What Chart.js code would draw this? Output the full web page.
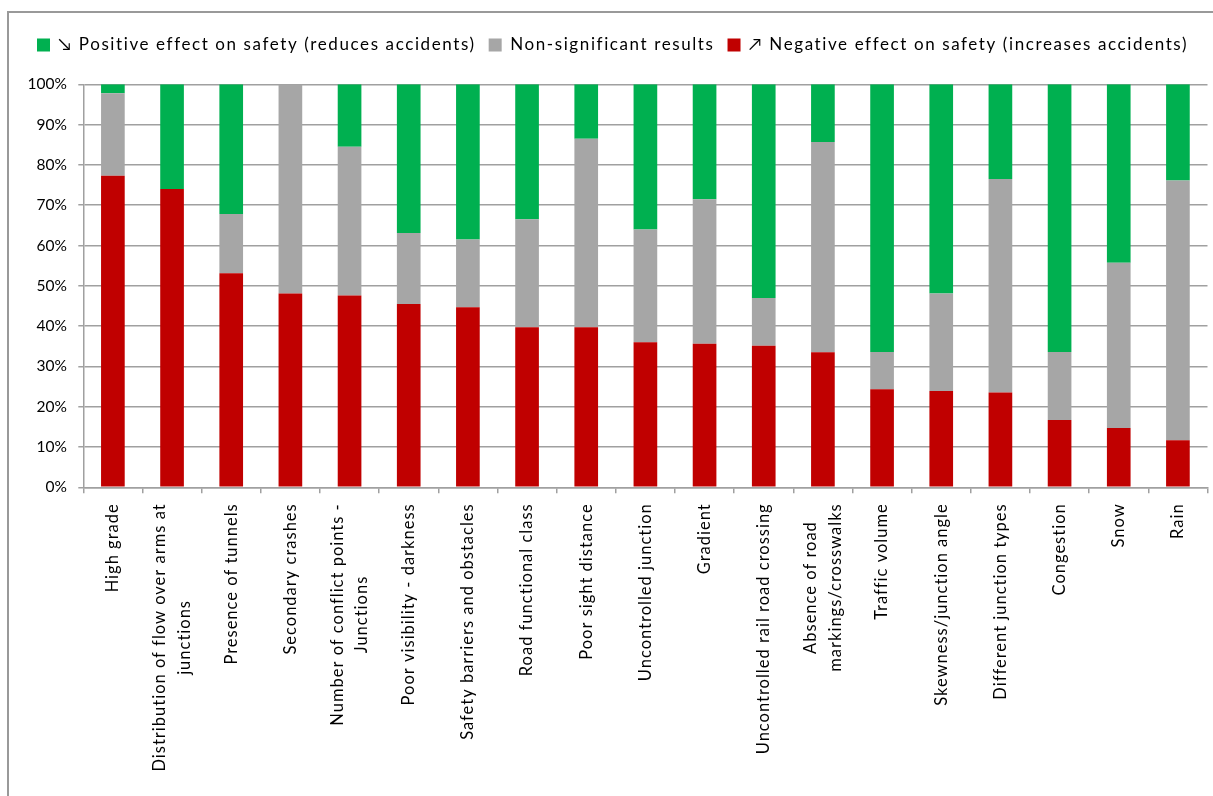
<!DOCTYPE html>
<html><head><meta charset="utf-8">
<script src="https://cdn.jsdelivr.net/npm/chart.js@4"></script>
<style>
html,body{margin:0;padding:0;background:#fff;}
#wrap{position:relative;width:1213px;height:796px;overflow:hidden;}
#frame{position:absolute;left:7px;top:11px;width:1300px;height:900px;border-left:2px solid #999;border-top:2px solid #999;}
canvas{position:absolute;left:0;top:0;}
</style></head><body>
<div id="wrap"><div id="frame"></div><canvas id="c" width="1213" height="796"></canvas></div>
<script>
const categories = [
  ["High grade"],
  ["Distribution of flow over arms at", "junctions"],
  ["Presence of tunnels"],
  ["Secondary crashes"],
  ["Number of conflict points -", "Junctions"],
  ["Poor visibility - darkness"],
  ["Safety barriers and obstacles"],
  ["Road functional class"],
  ["Poor sight distance"],
  ["Uncontrolled junction"],
  ["Gradient"],
  ["Uncontrolled rail road crossing"],
  ["Absence of road", "markings/crosswalks"],
  ["Traffic volume"],
  ["Skewness/junction angle"],
  ["Different junction types"],
  ["Congestion"],
  ["Snow"],
  ["Rain"]
];
const negativeValues =       [77.3, 74.0, 53.1, 48.1, 47.6, 45.5, 44.7, 39.7, 39.7, 36.0, 35.6, 35.1, 33.5, 24.3, 23.9, 23.5, 16.7, 14.7, 11.7];
const nonSignificantValues = [20.5,  0.0, 14.7, 51.9, 36.9, 17.6, 16.8, 26.8, 46.8, 28.0, 35.9, 11.9, 52.2,  9.3, 24.2, 53.0, 16.9, 41.0, 64.4];
const positiveValues =       [ 2.2, 26.0, 32.2,  0.0, 15.5, 36.9, 38.5, 33.5, 13.5, 36.0, 28.5, 53.0, 14.3, 66.4, 51.9, 23.5, 66.4, 44.3, 23.9];
const seriesNames = [
  "\u2197 Negative effect on safety (increases accidents)",
  "Non-significant results",
  "\u2198 Positive effect on safety (reduces accidents)"
];
const yTickStep = 10;

const FONT = 'Lato, "DejaVu Sans", sans-serif';
const X_FONT = 16.5;
const X_SPACING = '1px';
const LEGEND_SPACING = '1.6px';
const X_LINE = 24.7;
const GRID = '#a0a0a0';

const xLabelPlugin = {
  id: 'xLabels',
  afterDraw(chart) {
    const xs = chart.scales.x, ctx = chart.ctx;
    ctx.save();
    ctx.font = X_FONT + 'px ' + FONT;
    ctx.letterSpacing = X_SPACING;
    ctx.fillStyle = '#000';
    ctx.textAlign = 'center';
    ctx.textBaseline = 'middle';
    chart.data.labels.forEach((lab, i) => {
      const lines = Array.isArray(lab) ? lab : [lab];
      const maxW = Math.max(...lines.map(l => ctx.measureText(l).width));
      const cx = xs.getPixelForTick(i);
      const cy = xs.top + 16 + maxW / 2;
      ctx.save();
      ctx.translate(cx, cy);
      ctx.rotate(-Math.PI / 2);
      lines.forEach((l, j) => ctx.fillText(l, 0, (j - (lines.length - 1) / 2) * X_LINE));
      ctx.restore();
    });
    ctx.restore();
  }
};
const legendTweaks = {
  id: 'legendTweaks',
  beforeUpdate(chart) {
    const lg = chart.legend;
    if (lg && !lg._patched) {
      const origFit = lg.fit;
      lg.fit = function () {
        const ctx = this.ctx; const prev = ctx.letterSpacing;
        ctx.letterSpacing = LEGEND_SPACING;
        origFit.call(this);
        ctx.letterSpacing = prev || '0px';
        this.height += 20.8;
      };
      const origDraw = lg.draw;
      lg.draw = function () {
        const ctx = this.ctx; const prev = ctx.letterSpacing;
        ctx.letterSpacing = LEGEND_SPACING;
        origDraw.apply(this, arguments);
        ctx.letterSpacing = prev || '0px';
      };
      lg._patched = true;
    }
  }
};

new Chart(document.getElementById('c'), {
  type: 'bar',
  data: {
    labels: categories,
    datasets: [
      { label: seriesNames[0], data: negativeValues, backgroundColor: '#C00000' },
      { label: seriesNames[1], data: nonSignificantValues, backgroundColor: '#A6A6A6' },
      { label: seriesNames[2], data: positiveValues, backgroundColor: '#00B050' }
    ]
  },
  options: {
    responsive: false,
    animation: false,
    devicePixelRatio: 1,
    layout: { padding: { left: 24, right: 5.5, top: 23.5, bottom: 0 } },
    datasets: { bar: { barPercentage: 0.4, categoryPercentage: 1.0 } },
    plugins: {
      legend: {
        position: 'top', align: 'start', reverse: true,
        labels: { boxWidth: 13, boxHeight: 13, padding: 13, color: '#000', font: { family: FONT, size: 17 } }
      },
      tooltip: { enabled: false }
    },
    scales: {
      x: {
        stacked: true,
        afterFit(s) { s.height = 796 - 487.3; },
        ticks: { display: false },
        grid: { display: true, drawOnChartArea: false, drawTicks: true, tickLength: 6, offset: true, color: GRID, lineWidth: 1.5 },
        border: { display: true, color: GRID, width: 1.5 }
      },
      y: {
        stacked: true, min: 0, max: 100,
        afterFit(s) { s.width = 83.3 - 24; },
        ticks: { stepSize: yTickStep, padding: 11.5, color: '#000', font: { family: FONT, size: 15.5 }, callback: v => v + '%' },
        grid: { color: GRID, lineWidth: 1.5, tickLength: 5 },
        border: { display: true, color: GRID, width: 1.5 }
      }
    }
  },
  plugins: [xLabelPlugin, legendTweaks]
});
</script>
</body></html>
